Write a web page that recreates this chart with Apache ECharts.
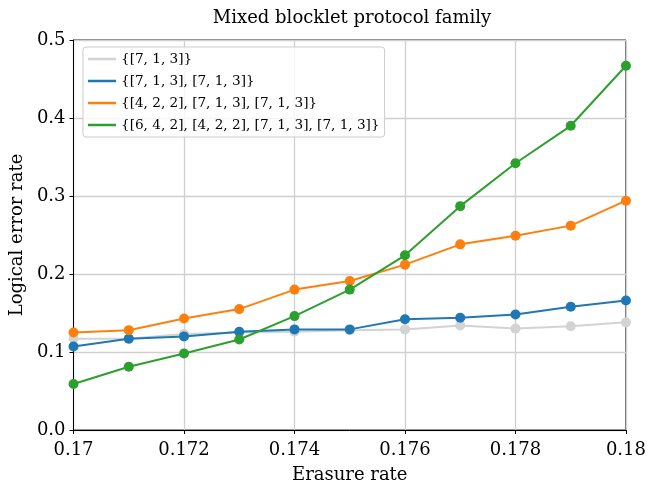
<!DOCTYPE html>
<html>
<head>
<meta charset="utf-8">
<script src="https://cdn.jsdelivr.net/npm/echarts@6/dist/echarts.min.js"></script>
<style>
  html, body { margin: 0; padding: 0; background: #fff; }
  #chart { width: 649px; height: 489px; }
</style>
</head>
<body>
<div id="chart"></div>
<script>
// Erasure rates sampled along the x axis
const erasureRates = [0.170, 0.171, 0.172, 0.173, 0.174, 0.175, 0.176, 0.177, 0.178, 0.179, 0.180];

// Protocol families (legend labels)
const familyNames = [
  '{[7, 1, 3]}',
  '{[7, 1, 3], [7, 1, 3]}',
  '{[4, 2, 2], [7, 1, 3], [7, 1, 3]}',
  '{[6, 4, 2], [4, 2, 2], [7, 1, 3], [7, 1, 3]}'
];

// Logical error rate for each family
const single713 = [0.117, 0.117, 0.123, 0.125, 0.126, 0.128, 0.129, 0.134, 0.130, 0.133, 0.138];
const double713 = [0.107, 0.117, 0.120, 0.126, 0.129, 0.129, 0.142, 0.144, 0.148, 0.158, 0.166];
const triple422 = [0.125, 0.128, 0.143, 0.155, 0.180, 0.191, 0.212, 0.238, 0.249, 0.262, 0.294];
const quad642 = [0.059, 0.081, 0.098, 0.116, 0.146, 0.180, 0.224, 0.287, 0.342, 0.390, 0.467];

const familyValues = [single713, double713, triple422, quad642];
const familyColors = ['#d3d3d3', '#1f77b4', '#ff7f0e', '#2ca02c'];

// Axis ranges and tick steps
const yMin = 0, yMax = 0.5, yStep = 0.1;
const xMin = 0.17, xMax = 0.18, xStep = 0.002;

const serif = 'DejaVu Serif';

const chart = echarts.init(document.getElementById('chart'), null, { renderer: 'canvas' });

const series = familyNames.map((name, i) => ({
  name: name,
  type: 'line',
  data: erasureRates.map((x, j) => [x, familyValues[i][j]]),
  symbol: 'circle',
  symbolSize: 10,
  smooth: false,
  lineStyle: { color: familyColors[i], width: 2 },
  itemStyle: { color: familyColors[i] },
  emphasis: { disabled: true },
  z: 2 + i
}));

chart.setOption({
  animation: false,
  backgroundColor: '#fff',
  title: {
    text: 'Mixed blocklet protocol family',
    left: 347, top: 4,
    textAlign: 'center',
    textStyle: { fontFamily: serif, fontWeight: 'normal', fontSize: 18, color: '#000' }
  },
  grid: {
    left: 73, right: 23, top: 40, bottom: 51,
    show: true, borderColor: '#000', borderWidth: 1, backgroundColor: 'transparent'
  },
  legend: {
    orient: 'vertical',
    left: 83, top: 47,
    data: familyNames,
    icon: 'rect',
    itemWidth: 28, itemHeight: 2.5,
    itemGap: 8,
    padding: [5, 5, 5, 5],
    backgroundColor: 'rgba(255,255,255,0.8)',
    borderColor: '#cccccc', borderWidth: 1, borderRadius: 3,
    textStyle: { fontFamily: serif, fontSize: 13.6, color: '#000' }
  },
  xAxis: {
    type: 'value',
    min: xMin, max: xMax, interval: xStep,
    name: 'Erasure rate', nameLocation: 'middle', nameGap: 36,
    nameTextStyle: { fontFamily: serif, fontSize: 18, color: '#000' },
    axisLine: { show: true, lineStyle: { color: '#000', width: 1 } },
    axisTick: { show: true, length: 4, inside: false, lineStyle: { color: '#000' } },
    axisLabel: {
      fontFamily: serif, fontSize: 18, color: '#000', margin: 11,
      formatter: v => String(+v.toFixed(3))
    },
    splitLine: { show: true, lineStyle: { color: '#d0d0d0', width: 1.3 } }
  },
  yAxis: {
    type: 'value',
    min: yMin, max: yMax, interval: yStep,
    name: 'Logical error rate', nameLocation: 'middle', nameGap: 46,
    nameTextStyle: { fontFamily: serif, fontSize: 18, color: '#000' },
    axisLine: { show: true, lineStyle: { color: '#000', width: 1 } },
    axisTick: { show: true, length: 4, inside: false, lineStyle: { color: '#000' } },
    axisLabel: {
      fontFamily: serif, fontSize: 18, color: '#000', margin: 8,
      formatter: v => v.toFixed(1)
    },
    splitLine: { show: true, lineStyle: { color: '#d0d0d0', width: 1.3 } }
  },
  series: series
});
</script>
</body>
</html>
